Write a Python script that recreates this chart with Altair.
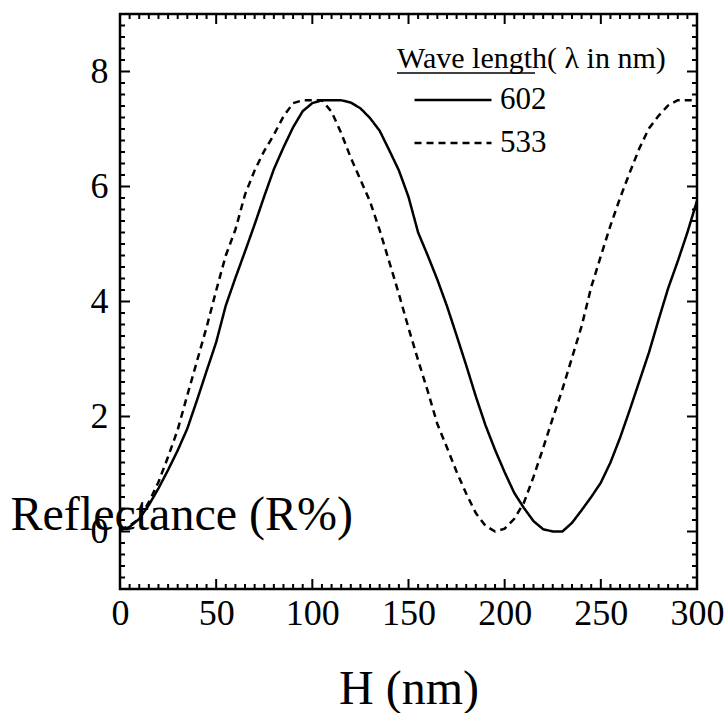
import altair as alt
import pandas as pd
import numpy as np

# ---- data ----
h_602 = [0, 5, 10, 15, 20, 25, 30, 35, 40, 45, 50, 55, 60, 65, 70, 75, 80, 85, 90, 95,
         100, 105, 110, 115, 120, 125, 130, 135, 140, 145, 150, 155, 160, 165, 170, 175,
         180, 185, 190, 195, 200, 205, 210, 215, 220, 225, 230, 235, 240, 245, 250, 255,
         260, 265, 270, 275, 280, 285, 290, 295, 300]
r_602 = [0.02, 0.08, 0.22, 0.46, 0.75, 1.07, 1.41, 1.79, 2.28, 2.79, 3.29, 3.93, 4.41, 4.87,
         5.34, 5.83, 6.30, 6.68, 7.03, 7.31, 7.45, 7.50, 7.50, 7.50, 7.46, 7.36, 7.19, 6.97,
         6.63, 6.28, 5.82, 5.20, 4.80, 4.38, 3.92, 3.41, 2.89, 2.35, 1.85, 1.42, 1.03, 0.67,
         0.41, 0.18, 0.04, 0.00, 0.00, 0.15, 0.37, 0.60, 0.85, 1.20, 1.63, 2.11, 2.61, 3.11,
         3.68, 4.23, 4.70, 5.20, 5.75]

h_533 = [0, 5, 10, 15, 20, 25, 30, 35, 40, 45, 50, 55, 60, 65, 70, 75, 80, 85, 90, 95,
         100, 105, 110, 115, 120, 125, 130, 135, 140, 145, 150, 155, 160, 165, 170, 175,
         180, 185, 190, 195, 200, 205, 210, 215, 220, 225, 230, 235, 240, 245, 250, 255,
         260, 265, 270, 275, 280, 285, 290, 295, 300]
r_533 = [0.03, 0.10, 0.22, 0.51, 0.86, 1.30, 1.77, 2.37, 2.96, 3.55, 4.19, 4.80, 5.25, 5.86,
         6.28, 6.62, 6.90, 7.22, 7.45, 7.50, 7.50, 7.50, 7.30, 6.93, 6.50, 6.12, 5.74, 5.24,
         4.69, 4.13, 3.54, 2.98, 2.44, 1.87, 1.46, 1.04, 0.66, 0.32, 0.10, 0.00, 0.05, 0.22,
         0.50, 0.95, 1.45, 1.97, 2.47, 3.02, 3.57, 4.25, 4.79, 5.32, 5.80, 6.24, 6.66, 7.01,
         7.23, 7.41, 7.50, 7.50, 7.50]

series_names = ["602", "533"]
x_major = [0, 50, 100, 150, 200, 250, 300]
y_major = [0, 2, 4, 6, 8]
x_minor = [v for v in range(5, 300, 5) if v % 50 != 0]
y_minor = [round(v, 1) for v in np.arange(-0.8, 9.0, 0.2) if abs(round(v, 1) / 2 - round(round(v, 1) / 2)) > 1e-6]

df = pd.concat([
    pd.DataFrame({"H": h_602, "R": r_602, "series": series_names[0]}),
    pd.DataFrame({"H": h_533, "R": r_533, "series": series_names[1]}),
])

FONT = "Liberation Serif"
W, HGT = 577, 575

xscale = alt.Scale(domain=[0, 300], nice=False, zero=False)
yscale = alt.Scale(domain=[-1, 9], nice=False, zero=False)

xaxis = alt.Axis(values=x_major, ticks=False, tickSize=0, domain=False, grid=False,
                 labelFont=FONT, labelFontSize=36, labelColor="black", labelPadding=7,
                 labelFlush=False, labelOverlap=False,
                 title="H (nm)", titleFont=FONT, titleFontSize=48, titleFontWeight="normal",
                 titleColor="black", titleY=114, titleBaseline="alphabetic")
yaxis = alt.Axis(values=y_major, ticks=False, tickSize=0, domain=False, grid=False,
                 labelFont=FONT, labelFontSize=36, labelColor="black", labelPadding=12,
                 labelFlush=False, labelOverlap=False,
                 title="Reflectance (R%)", titleFont=FONT, titleFontSize=48,
                 titleFontWeight="normal", titleColor="black", titleAngle=0,
                 titleAlign="left", titleBaseline="alphabetic", titleX=-110, titleY=515)

X = alt.X("H:Q", scale=xscale, axis=xaxis)
Y = alt.Y("R:Q", scale=yscale, axis=yaxis)

lines = alt.Chart(df).mark_line(color="black", strokeWidth=2.5).encode(
    x=X, y=Y,
    strokeDash=alt.StrokeDash(
        "series:N",
        scale=alt.Scale(domain=series_names, range=[[1, 0], [7, 5]]),
        sort=series_names,
        legend=alt.Legend(
            title="Wave length( λ in nm)", orient="none", legendX=277, legendY=30,
            padding=0, titleFont=FONT, titleFontSize=30, titleFontWeight="normal",
            titleColor="black", titleLimit=400, titlePadding=11,
            labelFont=FONT, labelFontSize=31, labelColor="black", labelOffset=7,
            symbolType="stroke", symbolSize=5929, symbolStrokeWidth=2.5,
            symbolStrokeColor="black", symbolOffset=16, clipHeight=30, rowPadding=12,
        ),
    ),
)


def xticks(vals, y0, y1):
    d = pd.DataFrame({"H": vals})
    return alt.Chart(d).mark_rule(color="black", strokeWidth=2).encode(
        x=X, y=alt.value(y0), y2=alt.value(y1))


def yticks(vals, x0, x1):
    d = pd.DataFrame({"R": vals})
    return alt.Chart(d).mark_rule(color="black", strokeWidth=2).encode(
        y=Y, x=alt.value(x0), x2=alt.value(x1))


tick_layers = [
    xticks(x_major, HGT, HGT - 10), xticks(x_minor, HGT, HGT - 5),
    xticks(x_major, 0, 10), xticks(x_minor, 0, 5),
    yticks(y_major, 0, 10), yticks(y_minor, 0, 5),
    yticks(y_major, W, W - 10), yticks(y_minor, W, W - 5),
]

underline = alt.Chart(pd.DataFrame({"a": [0]})).mark_rule(color="black", strokeWidth=1.5).encode(
    x=alt.value(277), x2=alt.value(415), y=alt.value(59))

chart = alt.layer(lines, *tick_layers, underline).properties(
    width=W, height=HGT,
    autosize=alt.AutoSizeParams(type="none"),
    padding={"left": 120, "top": 14, "right": 31, "bottom": 124},
    background="white",
).configure_view(stroke="black", strokeWidth=2.5)

chart.save("out.html", embed_options={"renderer": "svg", "actions": False})
